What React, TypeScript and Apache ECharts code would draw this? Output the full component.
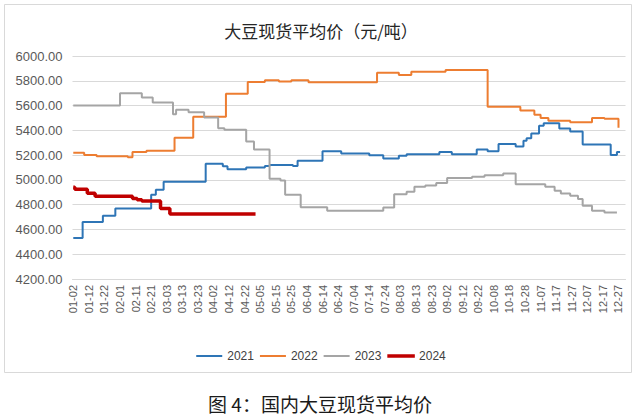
import React, { useEffect, useRef } from "react";
import * as echarts from "echarts";

// Category axis: daily month-day strings (holiday gaps excluded as in the source)
const monthDays = [31, 28, 31, 30, 31, 30, 31, 31, 30, 31, 30, 31];
const skippedDates = ["05-01", "05-02", "05-03", "10-01", "10-02", "10-03", "10-04", "10-05", "10-06"];
const pad = (n: number) => (n < 10 ? "0" + n : "" + n);
const categories: string[] = [];
monthDays.forEach((days, mi) => {
  for (let d = 1; d <= days; d++) {
    if (mi === 0 && d === 1) continue;
    const key = pad(mi + 1) + "-" + pad(d);
    if (skippedDates.indexOf(key) >= 0) continue;
    categories.push(key);
  }
});

const yTicks = { min: 4200, max: 6000, interval: 200 };

// Change points [date, price] (price held until next point)
const s2021: [string, number][] = [
  ["01-02", 4530], ["01-08", 4660], ["01-21", 4710], ["01-29", 4770], ["02-21", 4880],
  ["02-24", 4920], ["03-01", 4985], ["03-28", 5130], ["04-08", 5110], ["04-11", 5085],
  ["04-23", 5100], ["05-08", 5112], ["05-11", 5120], ["05-26", 5112], ["05-29", 5155],
  ["06-14", 5232], ["06-26", 5212], ["07-14", 5198], ["07-23", 5172], ["08-02", 5195],
  ["08-07", 5207], ["08-28", 5225], ["09-05", 5207], ["09-21", 5245], ["09-28", 5232],
  ["10-11", 5290], ["10-22", 5270], ["10-27", 5315], ["10-29", 5337], ["11-01", 5375],
  ["11-06", 5437], ["11-09", 5458], ["11-19", 5415], ["11-26", 5390], ["12-04", 5285],
  ["12-22", 5200], ["12-26", 5225], ["12-28", 5225],
];
const s2022: [string, number][] = [
  ["01-02", 5220], ["01-09", 5200], ["01-17", 5190], ["02-06", 5183], ["02-09", 5225],
  ["02-18", 5235], ["03-08", 5340], ["03-20", 5510], ["04-10", 5695], ["04-24", 5790],
  ["05-08", 5805], ["05-17", 5795], ["05-25", 5805], ["06-05", 5788], ["07-19", 5865],
  ["08-02", 5847], ["08-10", 5873], ["09-01", 5886], ["09-28", 5590], ["10-25", 5560],
  ["11-03", 5525], ["11-07", 5500], ["11-12", 5478], ["11-26", 5465], ["12-10", 5500],
  ["12-18", 5493], ["12-27", 5420],
];
const s2023: [string, number][] = [
  ["01-02", 5600], ["02-01", 5700], ["02-15", 5665], ["02-22", 5625], ["03-07", 5530],
  ["03-09", 5566], ["03-17", 5545], ["03-27", 5504], ["04-05", 5417], ["04-09", 5405],
  ["04-23", 5310], ["04-28", 5245], ["05-11", 5010], ["05-18", 4995], ["05-21", 4880],
  ["05-31", 4780], ["06-17", 4750], ["07-23", 4778], ["07-30", 4885], ["08-07", 4904],
  ["08-12", 4945], ["08-19", 4955], ["08-26", 4975], ["09-02", 5015], ["09-18", 5025],
  ["09-26", 5038], ["10-14", 5052], ["10-22", 4965], ["11-10", 4945], ["11-16", 4912],
  ["11-20", 4891], ["11-26", 4872], ["12-01", 4845], ["12-04", 4791], ["12-10", 4751],
  ["12-18", 4737], ["12-26", 4737],
];
const s2024: [string, number][] = [
  ["01-02", 4940], ["01-03", 4925], ["01-11", 4893], ["01-16", 4868], ["02-09", 4850],
  ["02-12", 4840], ["02-15", 4830], ["02-27", 4770], ["03-05", 4725], ["04-29", 4725],
];

const seriesNames = ["2021", "2022", "2023", "2024"];
const seriesColors = ["#2E75B6", "#ED7D31", "#A5A5A5", "#C00000"];
const seriesWidths = [2, 2, 2, 3.5];
const seriesData = [s2021, s2022, s2023, s2024];

const titleText = "大豆现货平均价（元/吨）";
const captionText = "图 4：国内大豆现货平均价";

export default function App() {
  const ref = useRef<HTMLDivElement>(null);
  useEffect(() => {
    if (!ref.current) return;
    const chart = echarts.init(ref.current, undefined, { renderer: "svg" });
    const numFont = "'Liberation Sans', Arial, 'Noto Sans CJK SC', sans-serif";
    chart.setOption({
      animation: false,
      backgroundColor: "#ffffff",
      title: {
        text: titleText,
        left: "center",
        top: 17,
        textStyle: { fontSize: 17, fontWeight: "normal", color: "#262626", fontFamily: "'Noto Sans CJK SC', sans-serif" },
      },
      legend: {
        data: seriesNames.map((name, i) => ({
          name,
          icon: "rect",
          itemStyle: {
            color: seriesColors[i],
            borderColor: seriesColors[i],
            borderWidth: i === 3 ? 1.5 : 0,
          },
        })),
        top: 345,
        left: "center",
        itemWidth: 26,
        itemHeight: 2,
        itemGap: 6,
        textStyle: { fontSize: 12, color: "#404040", fontFamily: numFont },
      },
      grid: { left: 72.5, right: 16.5, top: 56, bottom: 138 },
      xAxis: {
        type: "category",
        data: categories,
        boundaryGap: true,
        axisLine: { lineStyle: { color: "#d9d9d9" } },
        axisTick: { show: false },
        axisLabel: { interval: 9, rotate: 90, fontSize: 11, color: "#595959", margin: 6, fontFamily: numFont },
        splitLine: { show: false },
      },
      yAxis: {
        type: "value",
        min: yTicks.min,
        max: yTicks.max,
        interval: yTicks.interval,
        axisLine: { show: false },
        axisTick: { show: false },
        axisLabel: {
          fontSize: 13,
          color: "#595959",
          margin: 10,
          fontFamily: numFont,
          formatter: (v: number) => v.toFixed(2),
        },
        splitLine: { lineStyle: { color: "#d9d9d9", width: 1 } },
      },
      series: seriesNames.map((name, i) => ({
        name,
        type: "line",
        step: "end",
        data: seriesData[i],
        symbol: "none",
        showSymbol: false,
        color: seriesColors[i],
        lineStyle: { color: seriesColors[i], width: seriesWidths[i] },
        z: i === 3 ? 5 : 2,
      })),
      graphic: [
        {
          type: "rect",
          shape: { x: 4.5, y: 4.5, width: 627, height: 368 },
          style: { fill: "none", stroke: "#d9d9d9", lineWidth: 1 },
          silent: true,
        },
        {
          type: "text",
          x: 320,
          y: 403,
          style: {
            text: captionText,
            fontSize: 19,
            fill: "#1a1a1a",
            align: "center",
            verticalAlign: "middle",
            fontFamily: "'Noto Sans CJK SC', sans-serif",
          },
        },
      ],
    });
    return () => chart.dispose();
  }, []);
  return <div ref={ref} style={{ position: "fixed", left: 0, top: 0, width: 642, height: 417 }} />;
}
